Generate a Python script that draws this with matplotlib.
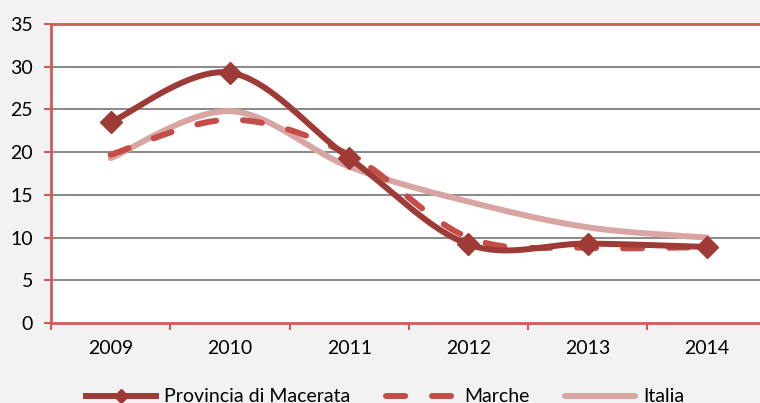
import numpy as np
import matplotlib
matplotlib.use("Agg")
import matplotlib.pyplot as plt
from matplotlib.lines import Line2D

years = ["2009", "2010", "2011", "2012", "2013", "2014"]
provincia = [23.5, 29.3, 19.3, 9.2, 9.3, 8.9]
marche = [19.7, 23.8, 19.7, 10.0, 8.8, 8.9]
italia = [19.3, 24.8, 18.3, 14.2, 11.2, 10.0]
yticks = [0, 5, 10, 15, 20, 25, 30, 35]

def smooth(y, n=40):
    # Catmull-Rom style Bezier smoothing (like Excel's smoothed line)
    y = np.asarray(y, float)
    x = np.arange(len(y), dtype=float)
    pts = np.column_stack([x, y])
    out = []
    for i in range(len(pts) - 1):
        p0 = pts[i - 1] if i > 0 else pts[i]
        p1 = pts[i]
        p2 = pts[i + 1]
        p3 = pts[i + 2] if i + 2 < len(pts) else pts[i + 1]
        c1 = p1 + (p2 - p0) / 6.0
        c2 = p2 - (p3 - p1) / 6.0
        t = np.linspace(0, 1, n)[:, None]
        seg = ((1 - t) ** 3) * p1 + 3 * ((1 - t) ** 2) * t * c1 + 3 * (1 - t) * t ** 2 * c2 + t ** 3 * p2
        out.append(seg if i == 0 else seg[1:])
    s = np.vstack(out)
    return s[:, 0], s[:, 1]

plt.rcParams['font.family'] = ['Lato', 'DejaVu Sans']

fig = plt.figure(figsize=(7.6, 4.03), dpi=100, facecolor='#f2f2f2')
ax = fig.add_axes([51 / 760, 80 / 403, 715.7 / 760, 299 / 403])
ax.set_facecolor('white')

c_prov = '#9e3b37'
c_mar = '#c44d48'
c_ita = '#d9a5a3'
red = '#d05a58'
lw = 4.3
dash = (3.2, 4.5)

x = np.arange(len(years))

xs, ys = smooth(italia)
ax.plot(xs, ys, color=c_ita, lw=lw, solid_capstyle='round', zorder=3)
xs, ys = smooth(marche)
ax.plot(xs, ys, color=c_mar, lw=lw, dashes=dash, dash_capstyle='round', zorder=4)
xs, ys = smooth(provincia)
ax.plot(xs, ys, color=c_prov, lw=lw, solid_capstyle='round', zorder=5)
ax.plot(x, provincia, linestyle='none', marker='D', ms=11, color=c_prov, zorder=6)

ax.set_xlim(-0.5, len(years) - 0.5)
ax.set_ylim(0, 35)
ax.set_yticks(yticks)
ax.set_yticklabels([str(v) for v in yticks], fontsize=14)
ax.set_xticks(x)
ax.set_xticklabels(years, fontsize=14)
ax.set_xticks(np.arange(-0.5, len(years), 1.0), minor=True)
ax.tick_params(axis='x', which='major', length=0, pad=12)
ax.tick_params(axis='x', which='minor', length=5, width=1.5, color=red, direction='out')
ax.tick_params(axis='y', length=5, width=1.5, color=red, pad=8)

for yv in yticks[1:-1]:
    ax.axhline(yv, color='#8c8c8c', lw=1.5, zorder=1)

for side in ['left', 'top', 'bottom']:
    ax.spines[side].set_color(red)
    ax.spines[side].set_linewidth(2)
ax.spines['right'].set_visible(False)

handles = [
    Line2D([0], [0], color=c_prov, lw=lw, marker='D', ms=7),
    Line2D([0], [0], color=c_mar, lw=lw, dashes=dash, dash_capstyle='round'),
    Line2D([0], [0], color=c_ita, lw=lw, solid_capstyle='round'),
]
fig.legend(handles, ["Provincia di Macerata", "Marche", "Italia"], loc='center',
           bbox_to_anchor=(0.5 + 5 / 760, 6 / 403), ncol=3, frameon=False, fontsize=14,
           handlelength=3.6, handletextpad=0.45, columnspacing=1.8, borderpad=0)

fig.savefig('out.png', dpi=100, facecolor=fig.get_facecolor())
